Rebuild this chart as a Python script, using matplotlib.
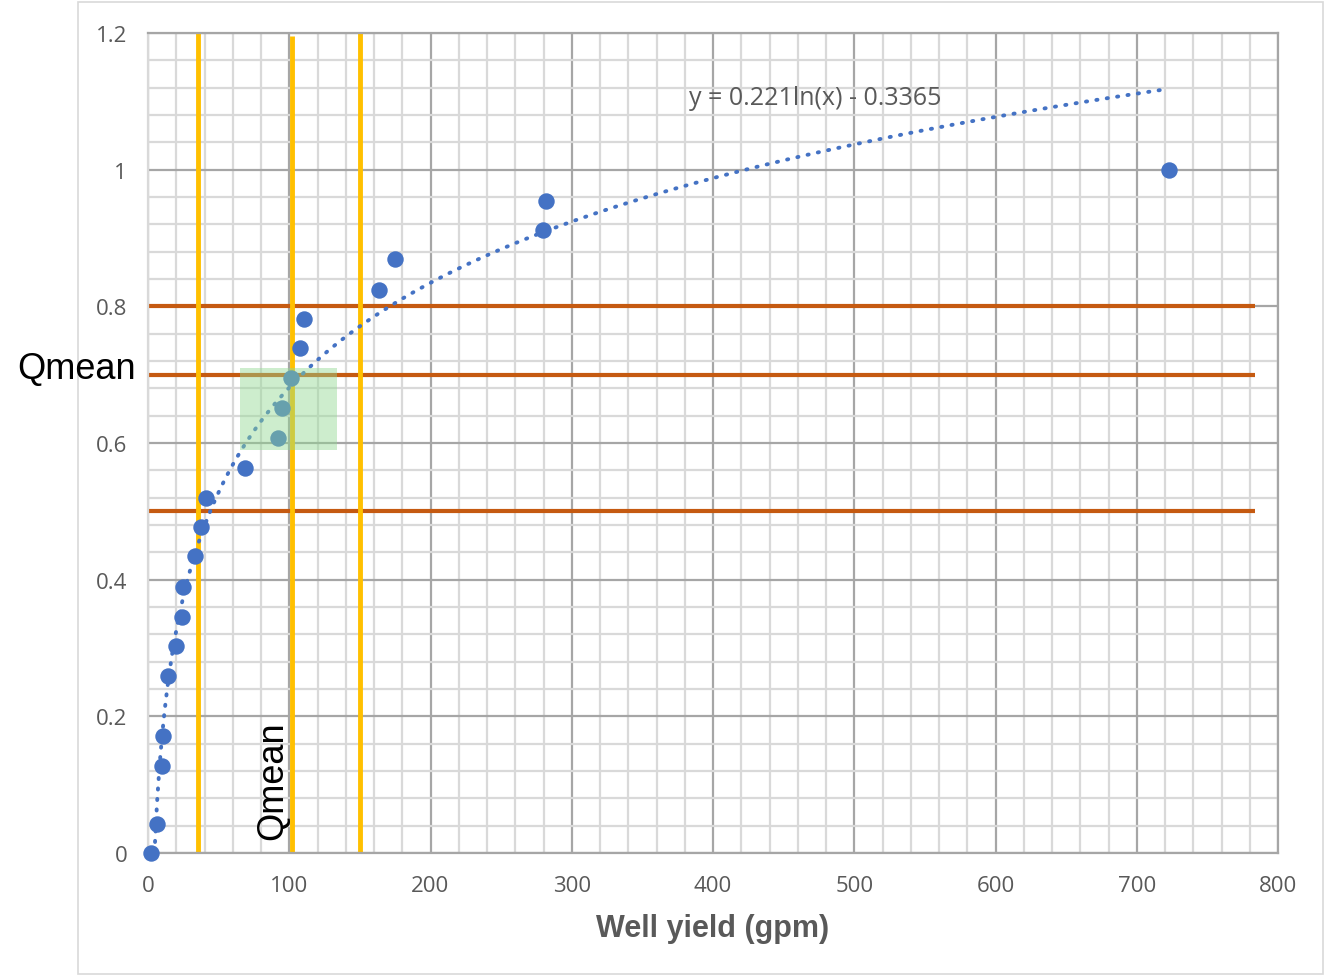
import numpy as np
import matplotlib.pyplot as plt
from matplotlib.patches import Rectangle
from matplotlib.ticker import MultipleLocator, FuncFormatter

# 数据：井产水量 (gpm) 与对应的累计比例
well_yield = [2.1, 6.4, 9.9, 10.6, 14.4, 19.6, 24.1, 25.0, 33.3, 37.5, 40.8,
              68.7, 92.2, 94.7, 101.2, 107.6, 110.4, 163.7, 174.9, 279.4, 281.6, 722.8]
fraction = [0.0, 0.042, 0.127, 0.171, 0.259, 0.303, 0.346, 0.390, 0.434, 0.477, 0.520,
            0.564, 0.608, 0.651, 0.695, 0.739, 0.782, 0.824, 0.869, 0.912, 0.954, 1.0]

# 对数趋势线 y = a ln(x) + b
trend_a, trend_b = 0.221, -0.3365
trend_x_range = [4.6, 720]

# 参考线
v_lines = [35.2, 102.0, 150]
h_lines = [0.8, 0.7, 0.5]
h_line_end = 784
box_x = [65, 134]
box_y = [0.59, 0.71]

blue = '#4472C4'

fig = plt.figure(figsize=(13.25, 9.78), dpi=100)
# 图表外框
fig.patches.append(Rectangle((78 / 1325, 3 / 978), 1245 / 1325, 972 / 978,
                             transform=fig.transFigure, facecolor='none',
                             edgecolor='#d9d9d9', linewidth=1.2, zorder=-10))

ax = fig.add_axes([148 / 1325, 1 - 854 / 978, 1130 / 1325, 820 / 978])
ax.set_xlim(0, 800)
ax.set_ylim(0, 1.2)
ax.set_facecolor('none')

ax.xaxis.set_major_locator(MultipleLocator(100))
ax.xaxis.set_minor_locator(MultipleLocator(20))
ax.yaxis.set_major_locator(MultipleLocator(0.2))
ax.yaxis.set_minor_locator(MultipleLocator(0.04))
ax.grid(which='minor', color='#d9d9d9', linewidth=1.6, zorder=0)
ax.grid(which='major', color='#a6a6a6', linewidth=1.6, zorder=0)
ax.set_axisbelow(True)
for side in ['top', 'right', 'bottom']:
    ax.spines[side].set_color('#a6a6a6')
    ax.spines[side].set_linewidth(1.6)
ax.spines['left'].set_color('#d9d9d9')
ax.spines['left'].set_linewidth(1.6)

ax.yaxis.set_major_formatter(FuncFormatter(lambda v, p: f'{v:.1f}'.rstrip('0').rstrip('.') if v else '0'))
ax.tick_params(which='both', length=0)
ax.tick_params(axis='x', pad=16, labelsize=16, labelcolor='#595959')
ax.tick_params(axis='y', pad=15, labelsize=16, labelcolor='#595959')
for lab in ax.get_xticklabels() + ax.get_yticklabels():
    lab.set_family('Open Sans')

# 橙色水平线
for h in h_lines:
    ax.plot([0, h_line_end], [h, h], color='#C55A11', linewidth=3, zorder=2,
            clip_on=False, solid_capstyle='butt')

# 黄色竖线
for i, v in enumerate(v_lines):
    top = 1.195 if i == 1 else 1.2
    ax.plot([v, v], [0, top], color='#FFC000', linewidth=3.5, zorder=2,
            solid_capstyle='butt')

# 趋势线
tx = np.linspace(trend_x_range[0], trend_x_range[1], 400)
ax.plot(tx, trend_a * np.log(tx) + trend_b, color=blue, linewidth=2.8,
        linestyle=(0, (0.3, 2.4)), dash_capstyle='round', zorder=3)

# 散点
ax.scatter(well_yield, fraction, s=140, color=blue, zorder=4, linewidths=0, clip_on=False)

# 绿色方框
ax.add_patch(Rectangle((box_x[0], box_y[0]), box_x[1] - box_x[0], box_y[1] - box_y[0],
                       facecolor='#92D992', alpha=0.45, edgecolor='none', zorder=5))

ax.text(383, 1.105, 'y = 0.221ln(x) - 0.3365', fontsize=18, color='#595959',
        family='Open Sans', va='center', ha='left', zorder=6)
ax.text(88, 0.02, 'Qmean', fontsize=26, rotation=90, ha='center', va='bottom',
        family='Liberation Sans', zorder=6)
fig.text(17 / 1325, 1 - 370 / 978, 'Qmean', fontsize=26, ha='left', va='center',
         family='Liberation Sans')

ax.set_xlabel('Well yield (gpm)', fontsize=22, fontweight='bold', color='#595959',
              family='Liberation Sans', labelpad=12)

fig.savefig('out.png', dpi=100)
